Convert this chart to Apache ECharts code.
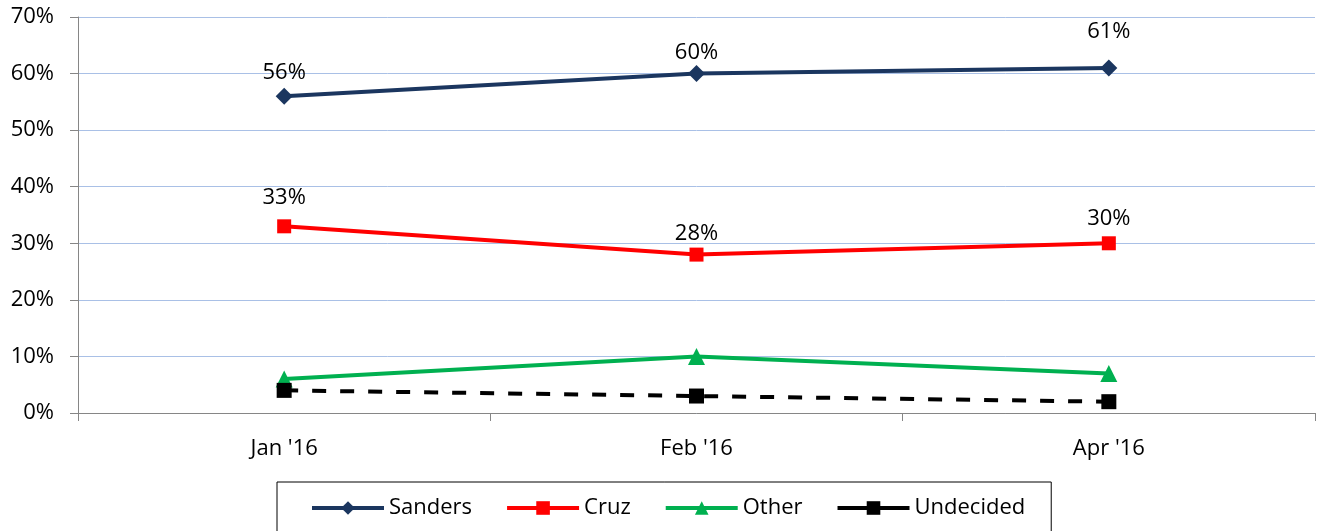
<!DOCTYPE html>
<html><head><meta charset="utf-8">
<script src="https://cdn.jsdelivr.net/npm/echarts@6/dist/echarts.min.js"></script>
<style>html,body{margin:0;padding:0;background:#fff}#c{width:1318px;height:531px}</style>
</head><body><div id="c"></div>
<script>
const categories = ["Jan '16", "Feb '16", "Apr '16"];
const sanders = [56, 60, 61];
const cruz = [33, 28, 30];
const other = [6, 10, 7];
const undecided = [4, 3, 2];
const yTicks = [0, 10, 20, 30, 40, 50, 60, 70];
// label lift above the point (px), styling only
const sandersLabelLift = [23, 21, 36];
const cruzLabelLift = [29, 21, 25];

const FONT = '"Open Sans", sans-serif';
const FS = 22;
const chart = echarts.init(document.getElementById('c'));
function withLabels(vals, lifts, symHalf) {
  return vals.map((v, i) => ({
    value: v,
    label: {distance: Math.max(0, lifts[i] - symHalf - FS / 2)}
  }));
}
const lbl = {show: true, position: 'top', color: '#000', fontSize: FS, fontFamily: FONT, formatter: p => p.value + '%'};
chart.setOption({
  animation: false,
  grid: {left: 78, right: 3, top: 17, bottom: 118},
  legend: {
    left: 277, top: 482,
    padding: [15, 26, 13, 33],
    borderColor: '#000', borderWidth: 1,
    itemWidth: 72, itemHeight: 17, itemGap: 33,
    textStyle: {fontSize: FS, fontFamily: FONT, color: '#000'},
    data: [
      {name: 'Sanders', lineStyle: {width: 4}},
      {name: 'Cruz', lineStyle: {width: 4}},
      {name: 'Other', lineStyle: {width: 4}},
      {name: 'Undecided', lineStyle: {width: 4, type: 'solid'}}
    ]
  },
  xAxis: {
    type: 'category', data: categories, boundaryGap: true,
    axisLine: {lineStyle: {color: '#868686', width: 1}},
    axisTick: {show: true, length: 8, lineStyle: {color: '#868686'}},
    axisLabel: {margin: 25, fontSize: FS, fontFamily: FONT, color: '#000'}
  },
  yAxis: {
    type: 'value', min: yTicks[0], max: yTicks[yTicks.length - 1], interval: 10,
    axisLine: {show: true, lineStyle: {color: '#868686', width: 1}},
    axisTick: {show: true, length: 8, lineStyle: {color: '#868686'}},
    axisLabel: {margin: 24, fontSize: FS, fontFamily: FONT, color: '#000', formatter: v => v + '%'},
    splitLine: {lineStyle: {color: '#a9c0e6', width: 1}}
  },
  series: [
    {name: 'Sanders', type: 'line', data: withLabels(sanders, sandersLabelLift, 8.5), symbol: 'diamond', symbolSize: 17,
     lineStyle: {color: '#1b365f', width: 4}, itemStyle: {color: '#1b365f'}, label: lbl},
    {name: 'Cruz', type: 'line', data: withLabels(cruz, cruzLabelLift, 7), symbol: 'rect', symbolSize: 14,
     lineStyle: {color: '#ff0000', width: 4}, itemStyle: {color: '#ff0000'}, label: lbl},
    {name: 'Other', type: 'line', data: other, symbol: 'triangle', symbolSize: 17,
     lineStyle: {color: '#00b050', width: 4}, itemStyle: {color: '#00b050'}},
    {name: 'Undecided', type: 'line', data: undecided, symbol: 'rect', symbolSize: 15,
     lineStyle: {color: '#000', width: 4, type: [14, 14]}, itemStyle: {color: '#000'}}
  ]
});
</script></body></html>
